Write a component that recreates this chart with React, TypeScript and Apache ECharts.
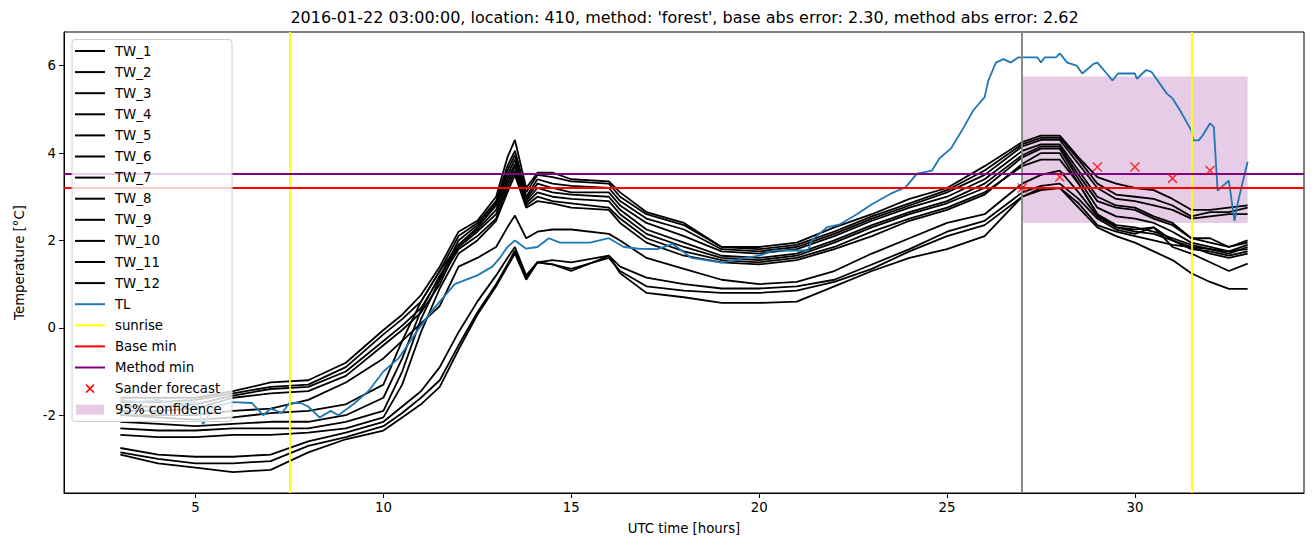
import React, { useEffect, useRef } from "react";
import * as echarts from "echarts";

// ---------- data ----------
const times = [3, 4, 5, 6, 7, 8, 9, 10, 10.5, 11, 11.5, 12, 12.5, 13, 13.3, 13.5, 13.8, 14.1, 14.5, 15, 16, 16.3, 17, 18, 19, 20, 21, 22, 23, 24, 25, 26, 27, 27.5, 28, 28.5, 29, 29.5, 30, 30.5, 31, 31.5, 32, 32.5, 33];

const tw1 = [-1.6, -1.6, -1.6, -1.45, -1.25, -1.2, -0.8, -0.05, 0.3, 0.75, 1.4, 2.2, 2.45, 3.0, 3.9, 4.3, 3.2, 3.55, 3.55, 3.4, 3.35, 3.1, 2.65, 2.4, 1.85, 1.85, 1.95, 2.3, 2.6, 2.95, 3.2, 3.7, 4.25, 4.4, 4.4, 3.9, 3.45, 3.3, 3.2, 3.15, 2.95, 2.7, 2.7, 2.75, 2.8];
const tw2 = [-1.7, -1.7, -1.65, -1.5, -1.35, -1.3, -0.9, -0.15, 0.2, 0.6, 1.3, 2.1, 2.4, 2.9, 3.7, 4.05, 3.1, 3.5, 3.45, 3.35, 3.3, 3.0, 2.6, 2.35, 1.85, 1.8, 1.9, 2.2, 2.55, 2.85, 3.15, 3.6, 4.2, 4.35, 4.35, 3.85, 3.3, 3.05, 3.0, 2.95, 2.8, 2.55, 2.65, 2.65, 2.75];
const tw3 = [-1.8, -1.8, -1.75, -1.55, -1.4, -1.35, -1.0, -0.3, 0.05, 0.45, 1.15, 2.0, 2.35, 2.85, 3.6, 3.95, 3.0, 3.4, 3.3, 3.25, 3.2, 2.9, 2.5, 2.25, 1.8, 1.75, 1.85, 2.15, 2.5, 2.8, 3.1, 3.5, 4.15, 4.3, 4.3, 3.75, 3.2, 2.95, 2.9, 2.8, 2.7, 2.5, 2.55, 2.6, 2.6];
const tw4 = [-1.9, -1.9, -1.85, -1.6, -1.5, -1.45, -1.1, -0.4, -0.05, 0.35, 1.0, 1.9, 2.3, 2.8, 3.5, 3.85, 2.95, 3.3, 3.2, 3.1, 3.1, 2.8, 2.4, 2.1, 1.75, 1.7, 1.8, 2.1, 2.45, 2.75, 3.0, 3.4, 4.05, 4.2, 4.2, 3.6, 3.0, 2.8, 2.75, 2.55, 2.4, 2.05, 2.05, 1.85, 2.0];
const tw5 = [-2.0, -2.05, -2.1, -2.05, -1.95, -1.9, -1.75, -1.3, -0.3, 0.6, 1.3, 1.9, 2.25, 2.7, 3.4, 3.75, 2.9, 3.2, 3.1, 3.05, 3.0, 2.7, 2.25, 1.95, 1.65, 1.6, 1.7, 2.0, 2.35, 2.65, 2.9, 3.3, 3.95, 4.15, 4.15, 3.5, 2.9, 2.75, 2.7, 2.5, 2.35, 2.05, 1.95, 1.85, 1.95];
const tw6 = [-2.15, -2.2, -2.25, -2.2, -2.15, -2.15, -2.0, -1.6, -0.7, 0.4, 1.2, 1.85, 2.2, 2.6, 3.3, 3.7, 2.85, 3.1, 3.0, 2.95, 2.9, 2.6, 2.15, 1.85, 1.6, 1.55, 1.65, 1.95, 2.3, 2.6, 2.85, 3.2, 3.9, 4.1, 4.1, 3.4, 2.75, 2.55, 2.5, 2.4, 2.2, 1.95, 1.85, 1.75, 1.9];
const tw7 = [-2.3, -2.35, -2.35, -2.3, -2.3, -2.3, -2.15, -1.9, -1.0, 0.2, 1.1, 1.8, 2.1, 2.5, 3.2, 3.6, 2.8, 3.0, 2.9, 2.85, 2.75, 2.5, 2.05, 1.75, 1.55, 1.5, 1.6, 1.85, 2.2, 2.5, 2.75, 3.1, 3.7, 3.85, 3.85, 3.3, 2.6, 2.35, 2.3, 2.2, 2.05, 1.9, 1.8, 1.7, 1.85];
const tw8 = [-2.45, -2.5, -2.5, -2.45, -2.45, -2.4, -2.3, -2.05, -1.3, -0.1, 0.9, 1.7, 2.0, 2.45, 3.1, 3.5, 2.75, 2.9, 2.85, 2.75, 2.7, 2.4, 1.95, 1.65, 1.5, 1.45, 1.55, 1.8, 2.1, 2.45, 2.7, 3.05, 3.75, 4.0, 4.0, 3.3, 2.6, 2.3, 2.25, 2.3, 2.0, 1.85, 1.8, 1.75, 1.8];
const tw9 = [-2.0, -2.0, -2.0, -1.9, -1.85, -1.65, -1.25, -0.7, -0.3, 0.1, 0.5, 1.4, 1.6, 1.85, 2.3, 2.57, 2.05, 2.2, 2.25, 2.25, 2.15, 2.0, 1.6, 1.35, 1.1, 1.0, 1.05, 1.3, 1.7, 2.05, 2.4, 2.6, 3.3, 3.5, 3.6, 3.1, 2.55, 2.3, 2.2, 2.15, 2.0, 1.8, 1.75, 1.65, 1.75];
const tw10 = [-2.75, -2.9, -2.95, -2.95, -2.9, -2.6, -2.4, -2.15, -1.8, -1.45, -0.9, -0.1, 0.6, 1.2, 1.6, 1.85, 1.2, 1.5, 1.55, 1.5, 1.65, 1.4, 1.15, 1.0, 0.9, 0.9, 0.95, 1.1, 1.45, 1.8, 2.2, 2.45, 3.1, 3.25, 3.3, 2.95, 2.5, 2.25, 2.15, 2.3, 1.85, 1.7, 1.5, 1.3, 1.47];
const tw11 = [-2.85, -3.0, -3.1, -3.1, -3.05, -2.7, -2.5, -2.25, -1.95, -1.6, -1.2, -0.4, 0.35, 1.0, 1.45, 1.77, 1.15, 1.5, 1.45, 1.35, 1.6, 1.3, 0.95, 0.85, 0.8, 0.8, 0.85, 1.05, 1.35, 1.75, 2.1, 2.35, 3.0, 3.2, 3.2, 2.85, 2.35, 2.2, 2.1, 2.0, 1.9, 1.85, 1.7, 1.6, 1.7];
const tw12 = [-2.9, -3.1, -3.2, -3.3, -3.25, -2.85, -2.55, -2.35, -2.05, -1.75, -1.35, -0.5, 0.3, 0.95, 1.4, 1.7, 1.1, 1.5, 1.45, 1.3, 1.65, 1.25, 0.8, 0.7, 0.57, 0.57, 0.6, 0.95, 1.3, 1.6, 1.8, 2.1, 3.0, 3.15, 3.2, 2.75, 2.3, 2.1, 1.95, 1.75, 1.55, 1.25, 1.05, 0.89, 0.89];

const twNames = ["TW_1", "TW_2", "TW_3", "TW_4", "TW_5", "TW_6", "TW_7", "TW_8", "TW_9", "TW_10", "TW_11", "TW_12"];
const twValues = [tw1, tw2, tw3, tw4, tw5, tw6, tw7, tw8, tw9, tw10, tw11, tw12];

const tlTimes = [3, 3.5, 4, 4.5, 5, 5.2, 5.5, 6, 6.5, 6.8, 7, 7.3, 7.5, 7.8, 8, 8.3, 8.6, 8.8, 9.2, 9.6, 10, 10.4, 10.9, 11.3, 11.9, 12.5, 12.9, 13.1, 13.3, 13.5, 13.8, 14.1, 14.4, 14.7, 15.5, 16, 16.4, 16.8, 17.3, 17.7, 18.2, 19, 19.5, 20, 20.4, 21.3, 21.4, 21.8, 22.15, 22.6, 23, 23.5, 23.9, 24.2, 24.6, 24.8, 25.1, 25.4, 25.7, 26, 26.1, 26.3, 26.5, 26.7, 26.9, 27.4, 27.5, 27.6, 27.9, 28, 28.2, 28.45, 28.6, 28.9, 29, 29.25, 29.4, 29.55, 30, 30.05, 30.3, 30.45, 30.85, 31, 31.2, 31.5, 31.55, 31.7, 31.8, 32, 32.1, 32.2, 32.5, 32.65, 32.75, 33];
const tlValues = [-1.65, -1.7, -1.65, -1.75, -1.7, -2.2, -1.8, -1.7, -1.72, -2.0, -1.85, -1.95, -1.72, -1.72, -1.8, -2.05, -1.9, -2.0, -1.75, -1.45, -1.0, -0.7, -0.07, 0.4, 1.0, 1.2, 1.4, 1.6, 1.85, 2.0, 1.81, 1.85, 2.05, 1.95, 1.95, 2.05, 1.85, 1.81, 1.8, 1.92, 1.6, 1.49, 1.58, 1.65, 1.77, 1.77, 2.0, 2.3, 2.37, 2.6, 2.83, 3.07, 3.22, 3.53, 3.6, 3.88, 4.1, 4.52, 4.98, 5.28, 5.66, 6.07, 6.15, 6.07, 6.19, 6.19, 6.07, 6.19, 6.19, 6.28, 6.07, 6.0, 5.82, 6.04, 6.07, 5.82, 5.66, 5.82, 5.82, 5.7, 5.9, 5.85, 5.36, 5.25, 4.98, 4.52, 4.29, 4.29, 4.4, 4.68, 4.6, 3.14, 3.37, 2.45, 2.91, 3.8];

const sunriseHours = [7.5, 31.5];
const forecastHour = 27;
const baseMin = 3.2;
const methodMin = 3.53;
const sanderHours = [27, 28, 29, 30, 31, 32];
const sanderValues = [3.2, 3.45, 3.68, 3.68, 3.42, 3.6];
const confidenceHours = [27, 33];
const confidenceBounds = [2.4, 5.75];

const xTicks = [5, 10, 15, 20, 25, 30];
const yTicks = [-2, 0, 2, 4, 6];

const titleText = "2016-01-22 03:00:00, location: 410, method: 'forest', base abs error: 2.30, method abs error: 2.62";

const FONT = "DejaVu Sans";
const CONF_FILL = "rgba(128,0,128,0.2)";

type LegendEntry = { name: string; kind: "line" | "cross" | "patch"; color: string };
const legendEntries: LegendEntry[] = [
  ...twNames.map((n) => ({ name: n, kind: "line" as const, color: "#000000" })),
  { name: "TL", kind: "line", color: "#1f77b4" },
  { name: "sunrise", kind: "line", color: "#ffff00" },
  { name: "Base min", kind: "line", color: "#ff0000" },
  { name: "Method min", kind: "line", color: "#800080" },
  { name: "Sander forecast", kind: "cross", color: "#ff0000" },
  { name: "95% confidence", kind: "patch", color: CONF_FILL },
];

function buildLegend() {
  const els: any[] = [];
  const top = 39.5;
  const rowH = 21.1;
  const firstY = 51;
  els.push({
    type: "rect",
    z: 100,
    shape: { x: 72, y: top, width: 160, height: 382, r: 3 },
    style: { fill: "rgba(255,255,255,0.8)", stroke: "#cccccc", lineWidth: 1 },
  });
  legendEntries.forEach((e, i) => {
    const cy = firstY + i * rowH;
    if (e.kind === "line") {
      els.push({ type: "line", z: 101, shape: { x1: 75, y1: cy, x2: 105, y2: cy }, style: { stroke: e.color, lineWidth: 2 } });
    } else if (e.kind === "cross") {
      els.push({ type: "line", z: 101, shape: { x1: 86, y1: cy - 4, x2: 94, y2: cy + 4 }, style: { stroke: e.color, lineWidth: 1.5 } });
      els.push({ type: "line", z: 101, shape: { x1: 86, y1: cy + 4, x2: 94, y2: cy - 4 }, style: { stroke: e.color, lineWidth: 1.5 } });
    } else {
      els.push({ type: "rect", z: 101, shape: { x: 76, y: cy - 5, width: 28, height: 10 }, style: { fill: e.color } });
    }
    els.push({
      type: "text",
      z: 101,
      x: 115,
      y: cy,
      style: { text: e.name, fill: "#000", fontSize: 13.3, fontFamily: FONT, align: "left", verticalAlign: "middle", textVerticalAlign: "middle" },
    });
  });
  els.push({
    type: "text",
    z: 101,
    x: 684.5,
    y: 17,
    style: { text: titleText, fill: "#000", fontSize: 16, fontFamily: FONT, align: "center", textAlign: "center", verticalAlign: "middle", textVerticalAlign: "middle" },
  });
  return els;
}

export default function App() {
  const ref = useRef<HTMLDivElement>(null);
  useEffect(() => {
    if (!ref.current) return;
    const chart = echarts.init(ref.current, null, { renderer: "svg" });

    const twSeries = twValues.map((vals, k) => ({
      name: twNames[k],
      type: "line",
      data: times.map((t, i) => [t, vals[i]]),
      symbol: "none",
      showSymbol: false,
      silent: true,
      z: 2,
      lineStyle: { color: "#000000", width: 1.8 },
      itemStyle: { color: "#000000" },
    }));

    const option: any = {
      animation: false,
      backgroundColor: "#ffffff",
      textStyle: { fontFamily: FONT },
      grid: { left: 64, right: 9, top: 32, bottom: 54, show: true, borderColor: "#000", borderWidth: 1, backgroundColor: "transparent", containLabel: false },
      xAxis: {
        type: "value",
        min: 1.5,
        max: 34.5,
        name: "UTC time [hours]",
        nameLocation: "middle",
        nameGap: 29,
        nameTextStyle: { color: "#000", fontSize: 13.3, fontFamily: FONT },
        axisLine: { show: true, onZero: false, lineStyle: { color: "#000", width: 1 } },
        axisTick: { show: true, length: 5, customValues: xTicks, lineStyle: { color: "#000" } },
        axisLabel: { customValues: xTicks, color: "#000", fontSize: 13.3, fontFamily: FONT, margin: 8 },
        splitLine: { show: false },
      },
      yAxis: {
        type: "value",
        min: -3.78,
        max: 6.77,
        name: "Temperature [°C]",
        nameLocation: "middle",
        nameGap: 38,
        nameRotate: 90,
        nameTextStyle: { color: "#000", fontSize: 13.3, fontFamily: FONT },
        axisLine: { show: true, onZero: false, lineStyle: { color: "#000", width: 1 } },
        axisTick: { show: true, length: 5, customValues: yTicks, lineStyle: { color: "#000" } },
        axisLabel: { customValues: yTicks, color: "#000", fontSize: 13.3, fontFamily: FONT, margin: 8 },
        splitLine: { show: false },
      },
      series: [
        {
          name: "95% confidence",
          type: "custom",
          z: 1,
          silent: true,
          data: [[confidenceHours[0], confidenceHours[1], confidenceBounds[0], confidenceBounds[1]]],
          renderItem: (params: any, api: any) => {
            const p1 = api.coord([api.value(0), api.value(3)]);
            const p2 = api.coord([api.value(1), api.value(2)]);
            return {
              type: "rect",
              shape: { x: p1[0], y: p1[1], width: p2[0] - p1[0], height: p2[1] - p1[1] },
              style: { fill: CONF_FILL },
            };
          },
        },
        ...twSeries,
        {
          name: "TL",
          type: "line",
          data: tlTimes.map((t, i) => [t, tlValues[i]]),
          symbol: "none",
          showSymbol: false,
          silent: true,
          z: 3,
          lineStyle: { color: "#1f77b4", width: 1.8 },
          itemStyle: { color: "#1f77b4" },
        },
        {
          name: "references",
          type: "line",
          data: [],
          z: 4,
          silent: true,
          markLine: {
            silent: true,
            symbol: ["none", "none"],
            label: { show: false },
            animation: false,
            data: [
              ...sunriseHours.map((h) => ({ xAxis: h, lineStyle: { color: "#ffff00", width: 1.8, type: "solid" } })),
              { xAxis: forecastHour, lineStyle: { color: "#808080", width: 1.8, type: "solid" } },
              { yAxis: baseMin, lineStyle: { color: "#ff0000", width: 1.8, type: "solid" } },
              { yAxis: methodMin, lineStyle: { color: "#800080", width: 1.8, type: "solid" } },
            ],
          },
        },
        {
          name: "Sander forecast",
          type: "scatter",
          z: 5,
          silent: true,
          data: sanderHours.map((h, i) => [h, sanderValues[i]]),
          symbol: "path://M0,0L10,10M10,0L0,10",
          symbolSize: 9,
          itemStyle: { color: "none", borderColor: "#ff0000", borderWidth: 1.5 },
        },
      ],
      graphic: buildLegend(),
    };

    chart.setOption(option);
    return () => chart.dispose();
  }, []);

  return <div ref={ref} style={{ position: "fixed", left: 0, top: 0, width: 1313, height: 547, background: "#fff" }} />;
}
